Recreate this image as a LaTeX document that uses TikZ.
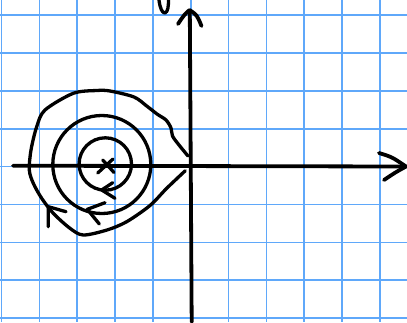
\documentclass[tikz,border=0pt]{standalone}
\begin{document}
\begin{tikzpicture}[x=1pt,y=-1pt,
  gridline/.style={line width=1.7pt,color={rgb,255:red,95;green,168;blue,250}},
  ink/.style={line width=3.3pt,line cap=round,line join=round,black},
  axisline/.style={line width=3.8pt,line cap=round,line join=round,black}]
\useasboundingbox (0,0) rectangle (407,322);
\fill[white] (0,0) rectangle (407,322);
% grid
\foreach \k in {0,...,10} {
  \draw[gridline] ({1.5+37.85*\k},0) -- ({1.5+37.85*\k},322);
}
\foreach \k in {0,...,8} {
  \draw[gridline] (0,{15+37.9*\k}) -- (407,{15+37.9*\k});
}
% coordinates
\coordinate (O) at (191.5,165.7);
\coordinate (xl) at (13,165.7);
\coordinate (xr) at (404,166.5);
\coordinate (yb) at (191.7,322);
\coordinate (yt) at (189.8,11);
\coordinate (c1) at (105.3,164);
\coordinate (c2) at (101.8,164.5);
% axes
\draw[axisline] (xl) -- (xr);
\draw[axisline] (yb) -- (yt);
\draw[axisline] (379,153) .. controls (392,157) .. (406,166.5) .. controls (396,172) .. (384,180);
\draw[axisline] (178,24) .. controls (184,15) .. (189.5,10) .. controls (197,15) .. (201.5,26);
% partial glyph at top
\draw[ink] (159,0) .. controls (160,8) and (162,13) .. (165,13) .. controls (168,12) and (168.5,6) .. (168.5,0);
% circles
\draw[ink] (c1) circle[radius=26.2pt];
\draw[ink] (c2) circle[radius=49pt];
% cross
\draw[ink] (97.7,173) -- (113,159);
\draw[ink] (102.7,160) -- (114,172.5);
% outer loop
\draw[ink] plot[smooth,tension=0.5] coordinates {
  (188,156) (179,145) (172.5,136) (171,128) (166,120) (157,114)
  (146.7,106) (134,97) (110,91) (96.7,90.5) (73.3,93.3) (45,110) (36.7,126.7)
  (31,150) (29.3,170) (33.3,183.3) (41.7,198.3) (53.3,213.3) (70,228.3)
  (83.3,235) (107,230) (126.7,221.7) (150,205.5) (166.7,188.3) (185.3,170.7)};
% direction chevrons
\draw[ink] (112.7,182.7) -- (101.7,190) -- (115,198.3);
\draw[ink] (105,202.7) -- (87.3,209.3) -- (99.3,224);
\draw[ink] (66,211.7) -- (48.3,206.7) -- (48.3,226.7);
\end{tikzpicture}
\end{document}
